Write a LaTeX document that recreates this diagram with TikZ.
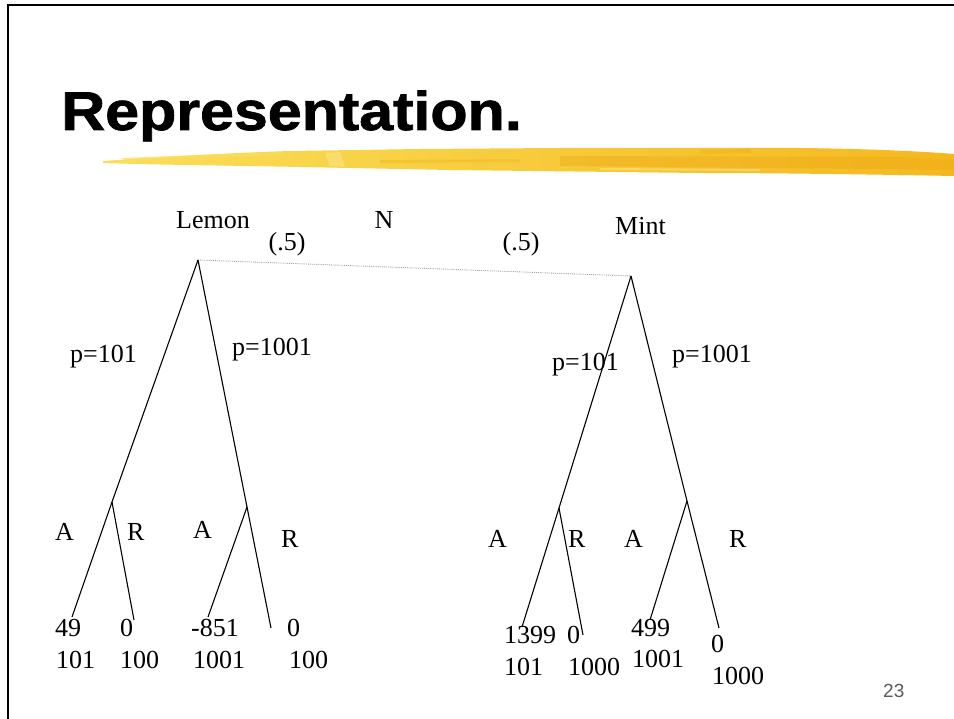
\documentclass[tikz,border=0pt]{standalone}
\usepackage{graphicx}
\usepackage{fontspec}
\setmainfont{Liberation Serif}
\newfontfamily\titlefont{Liberation Sans}[BoldFeatures={FakeBold=1.4}]
\newfontfamily\numfont{Liberation Sans}
\definecolor{brushA}{RGB}{250,222,90}
\definecolor{brushB}{RGB}{244,184,30}
\definecolor{brushC}{RGB}{238,170,20}
\definecolor{brushD}{RGB}{252,236,150}
\definecolor{pagegray}{RGB}{90,90,90}
\tikzset{
  lbl/.style={inner sep=0pt, anchor=base west, font=\fontsize{26}{30}\selectfont},
  clbl/.style={inner sep=0pt, anchor=base, font=\fontsize{26}{30}\selectfont},
  branch/.style={line width=1.1pt, black},
  chance/.style={line width=0.9pt, gray!75, densely dotted},
  frameline/.style={line width=2.6pt, black}
}
\begin{document}
\begin{tikzpicture}[x=1pt,y=-1pt]
\useasboundingbox (0,0) rectangle (954,719);
% frame
\coordinate (f1) at (8,719);
\coordinate (f2) at (8,5);
\coordinate (f3) at (954,5);
\draw[frameline] (f1) -- (f2) -- (f3);
% title
\node[inner sep=0pt, anchor=base west] (title) at (61,130)
  {\scalebox{1.15}[1.03]{\titlefont\bfseries\fontsize{53}{60}\selectfont Representation.}};
% brush stroke
\shade[left color=brushA, right color=brushB]
  (103,161) .. controls (160,157) and (230,153) .. (290,151)
  -- (420,149) -- (560,148) -- (800,148) .. controls (880,149) and (930,152) .. (954,154)
  -- (954,176) .. controls (850,174) and (760,173) .. (700,173)
  -- (450,170) -- (250,166) .. controls (180,165) and (130,164) .. (103,163) -- cycle;
\fill[brushC, opacity=0.45] (560,156) -- (900,157) -- (954,160) -- (954,170) -- (880,169) -- (560,166) -- cycle;
\fill[brushD, opacity=0.45] (325,153) -- (340,152) -- (345,167) -- (330,166) -- cycle;
\fill[brushB, opacity=0.5] (380,160) -- (520,159) -- (520,162) -- (380,163) -- cycle;
\fill[brushA, opacity=0.7] (120,158) -- (280,152) -- (285,155) -- (125,160) -- cycle;
\fill[brushC, opacity=0.35] (700,150) -- (750,149) -- (752,153) -- (702,154) -- cycle;
\fill[brushD, opacity=0.5] (600,168) -- (760,169) -- (760,171) -- (600,170) -- cycle;
% tree coordinates
\coordinate (L) at (198,260);
\coordinate (M) at (631,276);
\coordinate (L1) at (112,502);
\coordinate (L2) at (247,507);
\coordinate (M1) at (559,508);
\coordinate (M2) at (687,501);
\coordinate (L1a) at (72,617);
\coordinate (L1r) at (134,620);
\coordinate (L2a) at (208,617);
\coordinate (L2r) at (271,628);
\coordinate (M1a) at (522,627);
\coordinate (M1r) at (583,635);
\coordinate (M2a) at (650,620);
\coordinate (M2r) at (719,628);
% chance link
\draw[chance] (L) -- (M);
% branches
\draw[branch] (L) -- (L1);
\draw[branch] (L) -- (L2);
\draw[branch] (M) -- (M1);
\draw[branch] (M) -- (M2);
\draw[branch] (L1) -- (L1a);
\draw[branch] (L1) -- (L1r);
\draw[branch] (L2) -- (L2a);
\draw[branch] (L2) -- (L2r);
\draw[branch] (M1) -- (M1a);
\draw[branch] (M1) -- (M1r);
\draw[branch] (M2) -- (M2a);
\draw[branch] (M2) -- (M2r);
% top labels
\node[lbl] (lemon) at (176,229) {Lemon};
\node[clbl] (nat) at (384,229) {N};
\node[clbl] (pl) at (287,251) {(.5)};
\node[clbl] (pr) at (521,251) {(.5)};
\node[lbl] (mint) at (615,235) {Mint};
% branch labels
\node[lbl] (p1) at (70,363) {p=101};
\node[lbl] (p2) at (232,356) {p=1001};
\node[lbl] (p3) at (552,371) {p=101};
\node[lbl] (p4) at (672,363) {p=1001};
% action labels
\node[lbl] (a1) at (55,540) {A};
\node[lbl] (r1) at (127,540) {R};
\node[lbl] (a2) at (193,538) {A};
\node[lbl] (r2) at (281,547) {R};
\node[lbl] (a3) at (488,547) {A};
\node[lbl] (r3) at (568,547) {R};
\node[lbl] (a4) at (624,547) {A};
\node[lbl] (r4) at (729,547) {R};
% payoffs
\node[lbl] (v1a) at (55,636) {49};
\node[lbl] (v1b) at (56,668) {101};
\node[lbl] (v2a) at (120,636) {0};
\node[lbl] (v2b) at (120,668) {100};
\node[lbl] (v3a) at (191,636) {-851};
\node[lbl] (v3b) at (193,668) {1001};
\node[lbl] (v4a) at (287,636) {0};
\node[lbl] (v4b) at (289,668) {100};
\node[lbl] (v5a) at (504,643) {1399};
\node[lbl] (v5b) at (504,675) {101};
\node[lbl] (v6a) at (567,643) {0};
\node[lbl] (v6b) at (568,675) {1000};
\node[lbl] (v7a) at (631,636) {499};
\node[lbl] (v7b) at (632,667) {1001};
\node[lbl] (v8a) at (711,652) {0};
\node[lbl] (v8b) at (712,684) {1000};
% page number
\node[inner sep=0pt, anchor=base west, text=pagegray, font=\numfont\fontsize{19}{22}\selectfont] (page) at (883,697) {23};
\end{tikzpicture}
\end{document}
